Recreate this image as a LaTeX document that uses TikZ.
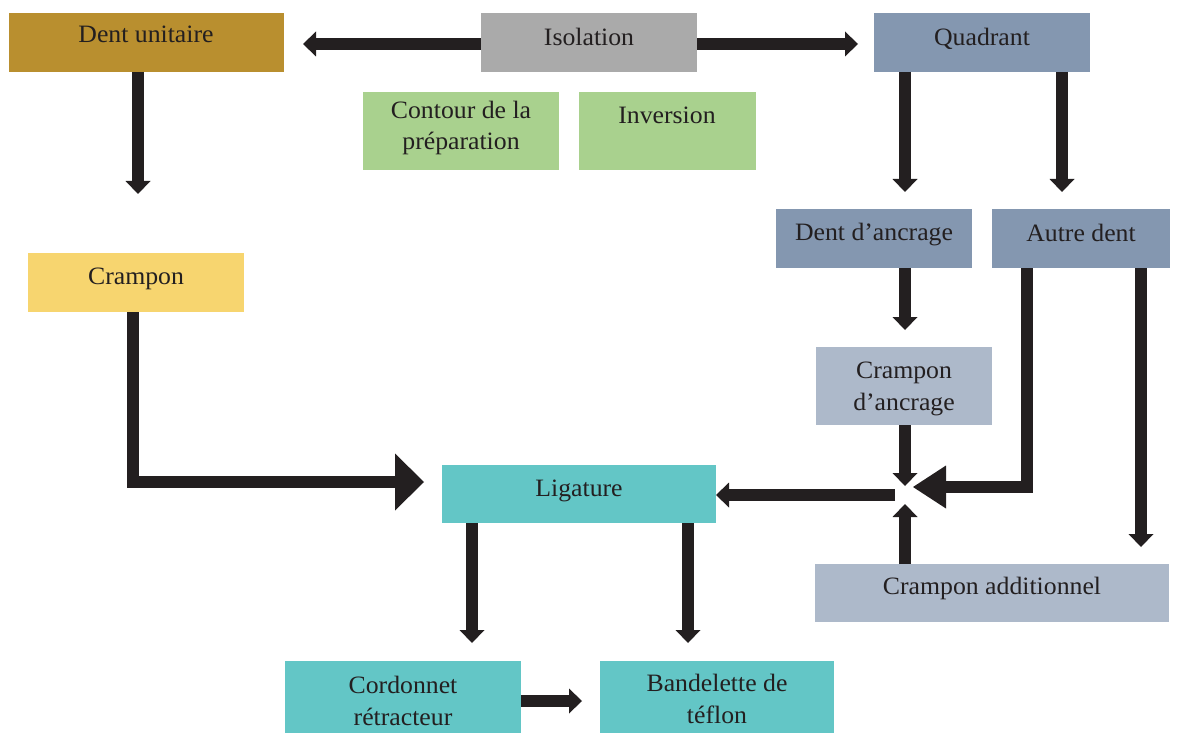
\documentclass[tikz,border=0pt]{standalone}
\usepackage{fontspec}
\setmainfont{Liberation Serif}[FakeStretch=1.03]
\usetikzlibrary{arrows.meta}
\definecolor{cGold}{HTML}{B98F2F}
\definecolor{cGray}{HTML}{AAAAAA}
\definecolor{cSlate}{HTML}{8497B0}
\definecolor{cGreen}{HTML}{A9D18E}
\definecolor{cYellow}{HTML}{F7D56F}
\definecolor{cTeal}{HTML}{63C6C6}
\definecolor{cLight}{HTML}{ADB9CA}
\definecolor{cArrow}{HTML}{231F20}
\tikzset{
  box/.style={draw=none, inner sep=0pt, outer sep=0pt},
  txt/.style={inner sep=0pt, align=center, text=cArrow, font=\fontsize{25}{31.5}\selectfont},
  arr/.style={draw=cArrow, line width=12pt, line join=miter, line cap=butt,
    -{Triangle[length=13pt,width=25pt,line width=0pt]}},
  bigarr/.style={draw=cArrow, line width=12pt, line join=miter, line cap=butt,
    -{Triangle[length=29pt,width=57pt,line width=0pt]}},
  bigarrb/.style={draw=cArrow, line width=12pt, line join=miter, line cap=butt,
    -{Triangle[length=33pt,width=43pt,line width=0pt]}},
}
\begin{document}
\begin{tikzpicture}[x=1pt,y=-1pt]
\useasboundingbox (0,0) rectangle (1184,733);
% boxes
\node[box, fill=cGold,   minimum width=275pt, minimum height=59pt] (du)    at (146.5,42.5) {};
\node[box, fill=cGray,   minimum width=216pt, minimum height=59pt] (iso)   at (589,42.5) {};
\node[box, fill=cSlate,  minimum width=216pt, minimum height=59pt] (quad)  at (982,42.5) {};
\node[box, fill=cGreen,  minimum width=196pt, minimum height=78pt] (cont)  at (461,131) {};
\node[box, fill=cGreen,  minimum width=177pt, minimum height=78pt] (inv)   at (667.5,131) {};
\node[box, fill=cYellow, minimum width=216pt, minimum height=59pt] (cramp) at (136,282.5) {};
\node[box, fill=cSlate,  minimum width=196pt, minimum height=59pt] (da)    at (874,238.5) {};
\node[box, fill=cSlate,  minimum width=178pt, minimum height=59pt] (ad)    at (1081,238.5) {};
\node[box, fill=cLight,  minimum width=176pt, minimum height=78pt] (ca)    at (904,386) {};
\node[box, fill=cTeal,   minimum width=274pt, minimum height=58pt] (lig)   at (579,494) {};
\node[box, fill=cLight,  minimum width=354pt, minimum height=58pt] (cadd)  at (992,593) {};
\node[box, fill=cTeal,   minimum width=236pt, minimum height=72pt] (cord)  at (403,697) {};
\node[box, fill=cTeal,   minimum width=234pt, minimum height=72pt] (band)  at (717,697) {};
% texts
\node[txt] (tdu)   at (146,34)  {Dent unitaire};
\node[txt] (tiso)  at (589,37)  {Isolation};
\node[txt] (tquad) at (982,39)  {Quadrant};
\node[txt] (tcont) at (461,128) {Contour de la\\préparation};
\node[txt] (tinv)  at (667,115) {Inversion};
\node[txt] (tcr)   at (136,279) {Crampon};
\node[txt] (tda)   at (874,235) {Dent d’ancrage};
\node[txt] (tad)   at (1081,233) {Autre dent};
\node[txt] (tca)   at (904,389) {Crampon\\d’ancrage};
\node[txt] (tlig)  at (579,491) {Ligature};
\node[txt] (tcadd) at (992,588) {Crampon additionnel};
\node[txt] (tcord) at (403,701) {Cordonnet\\rétracteur};
\node[txt] (tband) at (717,699) {Bandelette de\\téflon};
% coordinates
\coordinate (isoL) at (303,44);
\coordinate (isoR) at (858,44);
\coordinate (duA)  at (138,194);
\coordinate (crC)  at (133,482);
\coordinate (crA)  at (424,482);
\coordinate (qA1)  at (905,192);
\coordinate (qA2)  at (1062,192);
\coordinate (daA)  at (905,330);
\coordinate (caA)  at (905,486);
\coordinate (adC)  at (1027,487);
\coordinate (adA)  at (913,487);
\coordinate (adB)  at (1141,547);
\coordinate (cdA)  at (905,504);
\coordinate (jL)   at (895,495);
\coordinate (lA1)  at (472,643);
\coordinate (lA2)  at (688,643);
\coordinate (cbA)  at (582,701);
% connectors
\draw[arr] (iso.west |- isoL) -- (isoL);
\draw[arr] (iso.east |- isoR) -- (isoR);
\draw[arr] (du.south -| duA) -- (duA);
\draw[bigarr] (cramp.south -| crC) -- (crC) -- (crA);
\draw[arr] (quad.south -| qA1) -- (qA1);
\draw[arr] (quad.south -| qA2) -- (qA2);
\draw[arr] (da.south -| daA) -- (daA);
\draw[arr] (ca.south -| caA) -- (caA);
\draw[bigarrb] (ad.south -| adC) -- (adC) -- (adA);
\draw[arr] (ad.south -| adB) -- (adB);
\draw[arr] (cadd.north -| cdA) -- (cdA);
\draw[arr] (jL) -- (lig.east |- jL);
\draw[arr] (lig.south -| lA1) -- (lA1);
\draw[arr] (lig.south -| lA2) -- (lA2);
\draw[arr] (cord.east |- cbA) -- (cbA);
\end{tikzpicture}
\end{document}
